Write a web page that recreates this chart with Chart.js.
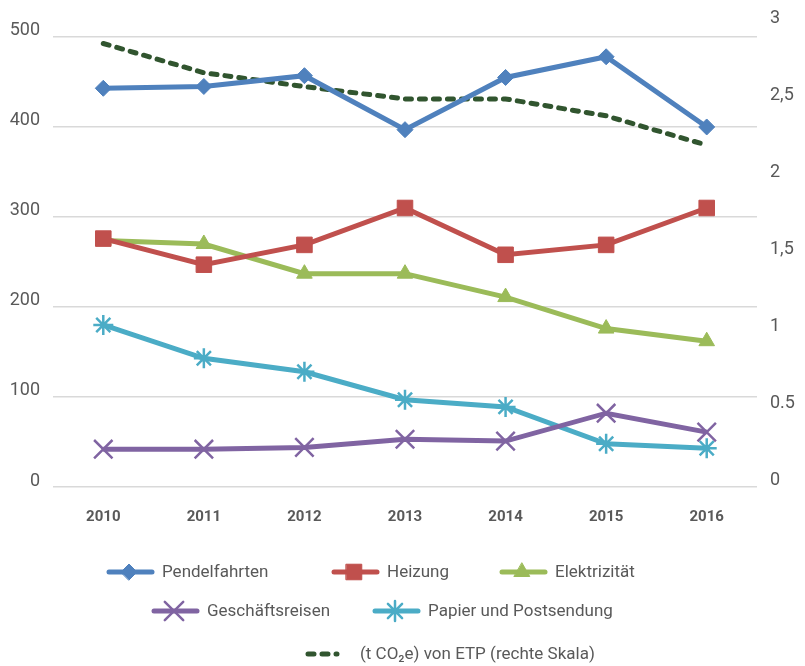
<!DOCTYPE html>
<html>
<head>
<meta charset="utf-8">
<script src="https://cdn.jsdelivr.net/npm/chart.js@4.4.0/dist/chart.umd.min.js"></script>
<style>
  html, body { margin: 0; padding: 0; background: #fff; }
  #wrap { width: 805px; height: 666px; }
</style>
</head>
<body>
<div id="wrap"><canvas id="emissions"></canvas></div>
<script>
// Data
const years = ["2010", "2011", "2012", "2013", "2014", "2015", "2016"];
const pendelfahrten = [443, 445, 457, 397, 455, 478, 400];
const heizung = [276, 247, 269, 310, 258, 269, 310];
const elektrizitaet = [274, 270, 237, 237, 211, 176, 162];
const geschaeftsreisen = [42, 42, 44, 53, 51, 82, 61];
const papier = [180, 143, 128, 97, 89, 48, 43];
const etp = [2.88, 2.69, 2.6, 2.52, 2.52, 2.41, 2.22];
const leftTicks = [0, 100, 200, 300, 400, 500];
const rightTicks = [0, 0.5, 1, 1.5, 2, 2.5, 3];
const rightTickLabels = ["0", "0.5", "1", "1,5", "2", "2,5", "3"];

const FONT = "'Roboto', sans-serif";
const TEXT = "#595959";
Chart.defaults.font.family = FONT;
Chart.defaults.color = TEXT;

function line(label, data, color, style, radius, bw) {
  return {
    label: label,
    data: data,
    yAxisID: "y",
    borderColor: color,
    backgroundColor: color,
    borderWidth: 5,
    pointStyle: style,
    pointRadius: radius,
    pointHoverRadius: radius,
    pointBorderWidth: bw,
    pointBackgroundColor: color,
    pointBorderColor: color,
    tension: 0,
  };
}

const datasets = [
  line("Pendelfahrten", pendelfahrten, "#4F81BD", "rectRot", 8, 1),
  line("Heizung", heizung, "#C0504D", "rect", 11, 1),
  line("Elektrizität", elektrizitaet, "#9BBB59", "triangle", 9, 1),
  line("Geschäftsreisen", geschaeftsreisen, "#8064A2", "crossRot", 13, 2.5),
  line("Papier und Postsendung", papier, "#4BACC6", "star", 10, 2.5),
  {
    label: "(t CO₂e) von ETP (rechte Skala)",
    data: etp,
    yAxisID: "y1",
    borderColor: "#31552F",
    borderWidth: 5,
    borderDash: [6, 8],
    borderCapStyle: "round",
    pointRadius: 0,
    pointHoverRadius: 0,
    tension: 0,
  },
];

// legend drawn by hand: line segment + marker, like the original
const legendItems = [
  { ds: 0, x: 107, y: 572 },
  { ds: 1, x: 332, y: 572 },
  { ds: 2, x: 500, y: 572 },
  { ds: 3, x: 152, y: 611 },
  { ds: 4, x: 373, y: 611 },
  { ds: 5, x: 305, y: 654 },
];

const customLegend = {
  id: "customLegend",
  afterDraw(chart) {
    const ctx = chart.ctx;
    legendItems.forEach((it) => {
      const ds = chart.data.datasets[it.ds];
      ctx.save();
      ctx.strokeStyle = ds.borderColor;
      ctx.lineWidth = 5;
      ctx.lineCap = "round";
      ctx.beginPath();
      if (ds.borderDash) {
        // two dashes and a dot
        ctx.moveTo(it.x + 3, it.y); ctx.lineTo(it.x + 9, it.y);
        ctx.moveTo(it.x + 17, it.y); ctx.lineTo(it.x + 23, it.y);
        ctx.moveTo(it.x + 31, it.y); ctx.lineTo(it.x + 32, it.y);
      } else {
        ctx.moveTo(it.x + 2, it.y);
        ctx.lineTo(it.x + 45, it.y);
      }
      ctx.stroke();
      if (ds.pointRadius) {
        ctx.fillStyle = ds.pointBackgroundColor;
        ctx.strokeStyle = ds.pointBorderColor;
        ctx.lineWidth = ds.pointBorderWidth;
        Chart.helpers.drawPoint(ctx, {
          pointStyle: ds.pointStyle,
          radius: ds.pointRadius,
          rotation: 0,
          borderWidth: ds.pointBorderWidth,
        }, it.x + 22, it.y);
      }
      ctx.fillStyle = TEXT;
      ctx.font = "17px " + FONT;
      ctx.textBaseline = "middle";
      ctx.textAlign = "left";
      ctx.fillText(ds.label, it.x + 55, it.y + 1);
      ctx.restore();
    });
  },
};

new Chart(document.getElementById("emissions"), {
  type: "line",
  data: { labels: years, datasets: datasets },
  options: {
    responsive: true,
    maintainAspectRatio: false,
    animation: false,
    layout: { padding: { top: 25, left: 0, right: 0, bottom: 0 } },
    plugins: {
      legend: { display: false },
      tooltip: { enabled: false },
    },
    scales: {
      x: {
        offset: true,
        grid: { display: false, drawTicks: false },
        border: { display: false },
        ticks: {
          padding: 21,
          color: TEXT,
          font: { size: 15, weight: "bold" },
        },
        afterFit(scale) { scale.height = 179; },
      },
      y: {
        position: "left",
        min: 0,
        max: 513.3,
        grid: { color: "#d9d9d9", lineWidth: 1.5, drawTicks: false },
        border: { display: false },
        afterBuildTicks(scale) {
          scale.ticks = leftTicks.map((v) => ({ value: v }));
        },
        ticks: {
          padding: 13,
          labelOffset: -6,
          color: TEXT,
          font: { size: 18 },
        },
        afterFit(scale) { scale.width = 53; },
      },
      y1: {
        position: "right",
        min: 0,
        max: 3,
        grid: { display: false, drawTicks: false },
        border: { display: false },
        afterBuildTicks(scale) {
          scale.ticks = rightTicks.map((v) => ({ value: v }));
        },
        ticks: {
          padding: 13,
          labelOffset: -7,
          color: TEXT,
          font: { size: 18 },
          callback: (v) => rightTickLabels[rightTicks.indexOf(v)],
        },
        afterFit(scale) { scale.width = 48; },
      },
    },
  },
  plugins: [customLegend],
});
</script>
</body>
</html>
